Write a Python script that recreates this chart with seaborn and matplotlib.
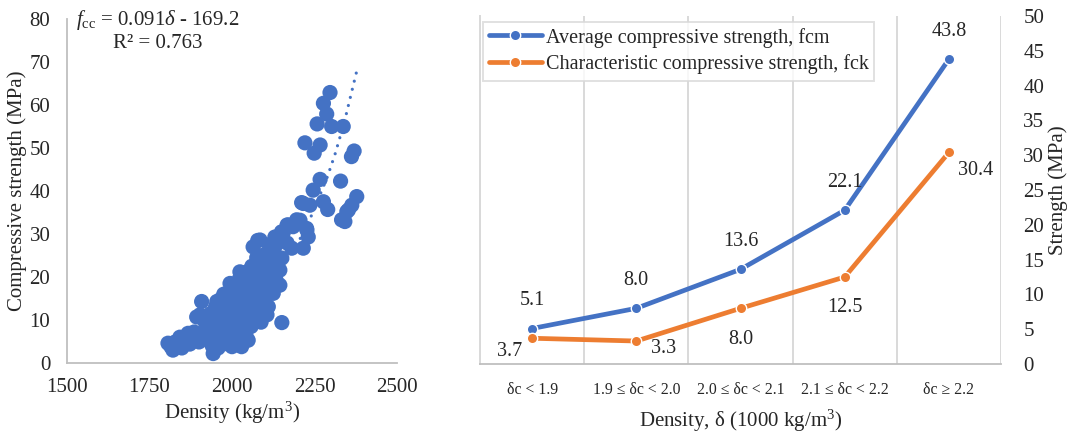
import numpy as np
import pandas as pd
import matplotlib
matplotlib.use("Agg")
import matplotlib.pyplot as plt
import seaborn as sns

# ---- datos: panel izquierdo (dispersion densidad vs resistencia) ----
densidad = [1806, 1815, 1821, 1828, 1835, 1842, 1848, 1842, 1855, 1863, 1867, 1872,
            1880, 1885, 1893, 1900, 1903, 1908, 1912, 1918, 1893, 1925, 1930,
            1935, 1940, 1943, 1948, 1950, 1954, 1958, 1960, 1964, 1964, 1968, 1972,
            1975, 1978, 1980, 1985, 1985, 1990, 1994, 1995, 2000, 2000, 2003, 2005,
            2008, 2010, 2012, 2015, 2018, 2020, 2022, 2024, 2025, 2028, 2029, 2030,
            2032, 2035, 2038, 2040, 2042, 2045, 2045, 2049, 2050, 2052, 2055, 2058,
            2060, 2062, 2064, 2064, 2067, 2070, 2072, 2075, 2078, 2080, 2082, 2085,
            2085, 2088, 2090, 2092, 2095, 2098, 2100, 2100, 2103, 2106, 2106, 2110,
            2112, 2115, 2118, 2121, 2125, 2128, 2130, 2130, 2135, 2140, 2145, 2145,
            2151, 2151,
            2150, 2155, 2167, 2167, 2171, 2181, 2185, 2196, 2206, 2211, 2216, 2216,
            2226, 2227, 2231, 2236, 2246, 2249, 2221, 2258, 2267, 2267, 2277, 2277,
            2287, 2290, 2297, 2302, 2329, 2332, 2337, 2342, 2348, 2353, 2362, 2363,
            2370, 2378]
resistencia = [4.6, 3.8, 3.0, 4.9, 4.2, 3.8, 3.5, 6.0, 5.0, 5.4, 6.9, 4.4,
               5.8, 7.2, 6.9, 4.9, 11.2, 14.3, 6.9, 9.6, 10.7, 5.5, 8.4,
               11.5, 4.0, 2.2, 7.0, 13.0, 14.3, 3.5, 9.5, 5.3, 14.7, 11.0, 7.5,
               16.0, 4.5, 12.5, 16.2, 9.0, 6.0, 18.5, 13.5, 3.8, 10.5, 18.1, 15.5,
               7.0, 12.5, 17.0, 9.0, 14.5, 5.5, 19.5, 21.2, 11.0, 16.5, 3.8, 8.0,
               13.5, 20.0, 10.5, 17.5, 6.5, 21.2, 14.5, 5.3, 11.5, 19.0, 16.0, 8.5,
               22.5, 13.0, 18.6, 27.0, 10.0, 20.5, 15.0, 24.5, 28.5, 12.0, 17.5, 28.6,
               21.5, 9.5, 14.5, 25.0, 19.0, 11.2, 19.8, 23.0, 16.0, 24.7, 11.2, 13.1,
               27.5, 20.5, 17.0, 22.3, 16.2, 25.5, 29.3, 27.0, 19.0, 23.5, 21.6, 18.1,
               9.4, 24.4,
               30.5, 30.2, 27.9, 32.1, 32.1, 26.7, 31.7, 33.3, 33.2, 37.3, 37.1, 26.7,
               31.3, 30.9, 29.3, 36.7, 40.2, 48.8, 51.2, 55.6, 42.7, 50.7, 37.5, 60.4,
               57.9, 35.7, 62.9, 55.0, 42.3, 33.3, 55.0, 32.9, 35.2, 35.6, 48.0, 36.7,
               49.3, 38.7]

# linea de tendencia
tend_x = [1810, 1900, 2000, 2100, 2166, 2210, 2244, 2289, 2312, 2340, 2378]
tend_y = [3.9, 6.2, 10.3, 16.9, 23.6, 29.4, 34.8, 43.3, 48.5, 55.9, 67.9]

# ---- datos: panel derecho ----
categorias = ["δc < 1.9", "1.9 ≤ δc < 2.0", "2.0 ≤ δc < 2.1", "2.1 ≤ δc < 2.2", "δc ≥ 2.2"]
fcm = [5.1, 8.0, 13.6, 22.1, 43.8]
fck = [3.7, 3.3, 8.0, 12.5, 30.4]
serie_fcm = "Average compressive strength, fcm"
serie_fck = "Characteristic compressive strength, fck"

azul = "#4472C4"
naranja = "#ED7D31"

sns.set_theme(style="white")
plt.rcParams["font.family"] = ["Liberation Serif", "DejaVu Serif"]
plt.rcParams["mathtext.fontset"] = "custom"
plt.rcParams["mathtext.rm"] = "Liberation Serif"
plt.rcParams["mathtext.it"] = "Liberation Serif:italic"

fig = plt.figure(figsize=(10.67, 4.33), dpi=100)
W, H = 1067, 433
ax1 = fig.add_axes([67 / W, 1 - 363 / H, 330 / W, 344 / H])
ax2 = fig.add_axes([480 / W, 1 - 364 / H, 521 / W, 348 / H])

#%% Panel izquierdo
sns.scatterplot(x=densidad, y=resistencia, ax=ax1, s=120, color=azul,
                edgecolor="none", linewidth=0, zorder=3)
ax1.plot(tend_x, tend_y, color=azul, lw=2.3, linestyle=(0, (0.01, 2.6)),
         dash_capstyle="round", zorder=4)
ax1.set_xlim(1500, 2500)
ax1.set_ylim(0, 80)
ax1.set_xticks([1500, 1750, 2000, 2250, 2500])
ax1.set_yticks(range(0, 81, 10))
ax1.tick_params(length=0, labelsize=15)
ax1.tick_params(axis="y", pad=12)
ax1.tick_params(axis="x", pad=11)
for s in ["top", "right"]:
    ax1.spines[s].set_visible(False)
for s in ["left", "bottom"]:
    ax1.spines[s].set_color("#BFBFBF")
    ax1.spines[s].set_linewidth(1.3)
ax1.set_xlabel("Density (kg/m$^3$)", fontsize=15, labelpad=2)
ax1.set_ylabel("Compressive strength (MPa)", fontsize=15, labelpad=2)
ax1.text(1774, 79.8, r"$f_{\mathrm{cc}}$ = 0.091$\delta$ - 169.2", ha="center",
         va="center", fontsize=15)
ax1.text(1774, 74.4, "R² = 0.763", ha="center", va="center", fontsize=15)

#%% Panel derecho
pos = np.arange(len(categorias))
df = pd.DataFrame({
    "pos": np.concatenate([pos, pos]),
    "valor": fcm + fck,
    "serie": [serie_fcm] * len(fcm) + [serie_fck] * len(fck),
})
sns.lineplot(data=df, x="pos", y="valor", hue="serie", palette=[azul, naranja],
             marker="o", markersize=7.5, markeredgecolor="white", markeredgewidth=1.0,
             linewidth=3.4, ax=ax2, zorder=3)

# etiquetas de datos (desplazamiento en pixeles)
off_fcm = [(0, 28), (0, 28), (0, 28), (0, 28), (0, 28)]
off_fck = [(-22, -13), (27, -7), (0, -31), (0, -30), (27, -18)]
for serie, off in [(fcm, off_fcm), (fck, off_fck)]:
    for p, v, o in zip(pos, serie, off):
        ax2.annotate(f"{v:.1f}", (p, v), xytext=o, textcoords="offset pixels",
                     ha="center", va="center", fontsize=14.5)

ax2.set_xlim(-0.5, 4.5)
ax2.set_ylim(0, 50)
ax2.set_xticks(pos)
ax2.set_xticklabels(categorias, fontsize=11.3)
ax2.set_xticks(np.arange(-0.5, 5, 1), minor=True)
ax2.grid(which="minor", axis="x", color="#D9D9D9", lw=1.4)
ax2.grid(which="major", visible=False)
ax2.set_yticks(range(0, 51, 5))
ax2.yaxis.tick_right()
ax2.yaxis.set_label_position("right")
ax2.tick_params(which="both", length=0, labelsize=15)
ax2.tick_params(axis="y", pad=16)
ax2.tick_params(axis="x", pad=13, labelsize=11.3)
for s in ["top", "right"]:
    ax2.spines[s].set_visible(False)
ax2.spines["left"].set_color("#D9D9D9")
ax2.spines["left"].set_linewidth(1.4)
ax2.spines["bottom"].set_color("#BFBFBF")
ax2.spines["bottom"].set_linewidth(1.3)
ax2.set_xlabel("Density, δ (1000 kg/m$^3$)", fontsize=15, labelpad=7)
ax2.set_ylabel("Strength (MPa)", fontsize=15, labelpad=3)

leg = ax2.legend(loc="upper left", bbox_to_anchor=(0.006, 0.984), borderaxespad=0,
                 frameon=True, fancybox=False, edgecolor="#D9D9D9", fontsize=14.5,
                 handlelength=2.6, handletextpad=0.2, borderpad=0.3, labelspacing=0.35)
leg.get_frame().set_linewidth(1.4)

fig.savefig("out.png", dpi=100)
